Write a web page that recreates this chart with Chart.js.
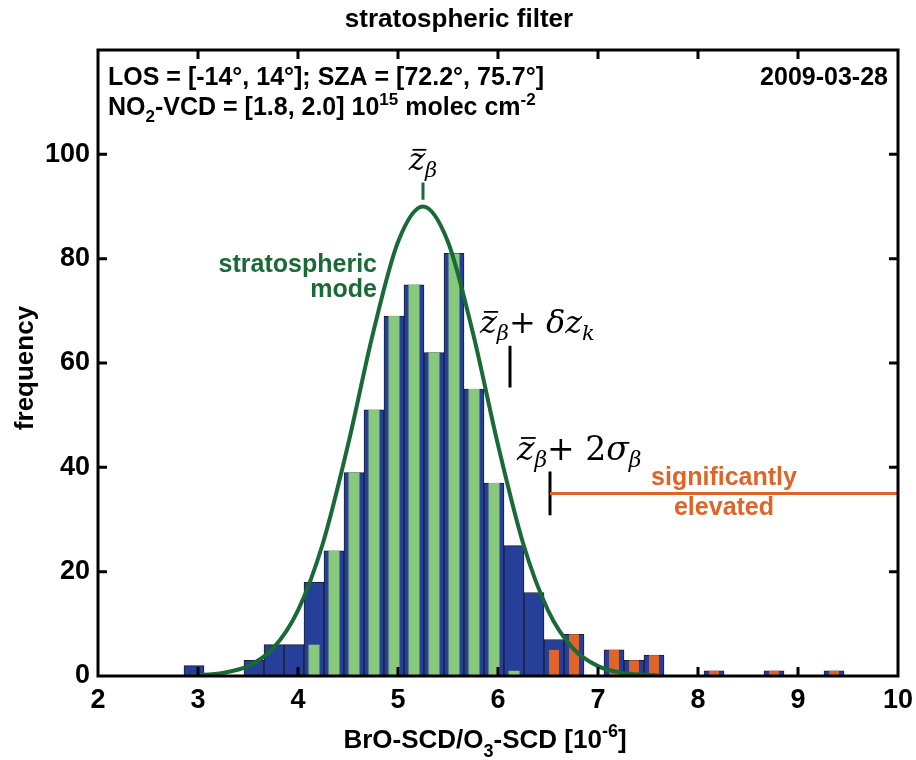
<html><head>
<meta charset="UTF-8">
<title>stratospheric filter</title>
<style>
  body { margin: 0; background: #ffffff; }
  #wrap { width: 916px; height: 760px; position: relative; }
</style>
<script src="https://cdn.jsdelivr.net/npm/chart.js"></script>
</head>
<body>
<div id="wrap"><canvas id="histChart"></canvas></div>
<script>
// bin centres of the BrO-SCD/O3-SCD histogram (bin width 0.2)
const binCenters = [2.96, 3.16, 3.36, 3.56, 3.76, 3.96, 4.16, 4.36, 4.56, 4.76, 4.96,
  5.16, 5.36, 5.56, 5.76, 5.96, 6.16, 6.36, 6.56, 6.76, 6.96, 7.16, 7.36, 7.56,
  7.76, 7.96, 8.16, 8.36, 8.56, 8.76, 8.96, 9.16, 9.36];
// all measurements (blue)
const allCounts = [2, 0, 0, 3, 6, 6, 18, 24, 39, 51, 69, 75, 62, 81, 55, 37, 25, 16,
  7, 8, 0, 5, 3, 4, 0, 0, 1, 0, 0, 1, 0, 0, 1];
// stratospheric mode members (green)
const stratCounts = [0, 0, 0, 0, 0, 0, 6, 24, 39, 51, 69, 75, 62, 81, 55, 37, 1, 0,
  0, 0, 0, 0, 0, 0, 0, 0, 0, 0, 0, 0, 0, 0, 0];
// significantly elevated (orange)
const elevCounts = [0, 0, 0, 0, 0, 0, 0, 0, 0, 0, 0, 0, 0, 0, 0, 0, 0, 0,
  5, 8, 0, 5, 3, 4, 0, 0, 1, 0, 0, 1, 0, 0, 1];

// fitted stratospheric mode
const curveX = [2.95, 3.25, 3.5, 3.75, 4.0, 4.25, 4.5, 4.75, 5.0, 5.25, 5.5, 5.75,
  6.0, 6.25, 6.5, 6.75, 7.0, 7.25, 7.6];
const curveY = [0.1, 0.6, 1.9, 5.3, 12.6, 25.5, 44.3, 65.7, 83.2, 90, 83.2, 65.7,
  44.3, 25.5, 12.6, 5.3, 1.9, 0.6, 0.1];

// markers
const meanZ = 5.25;
const deltaZ = 6.12;
const twoSigmaZ = 6.52;
const elevatedLevel = 35;

const xTicks = [2, 3, 4, 5, 6, 7, 8, 9, 10];
const yTicks = [0, 20, 40, 60, 80, 100];

const BLUE = '#263f98';
const GREEN = '#88c87a';
const ORANGE = '#df6428';
const CURVE = '#196a37';
const SANS = '"Liberation Sans", Arial, sans-serif';
const SERIF = '"DejaVu Serif", serif';

function pts(xs, ys) {
  return xs.map((x, i) => ({ x: x, y: ys[i] === 0 ? null : ys[i] }));
}

// draw a row of text pieces: [text, font, dy]
function drawRuns(ctx, x, y, runs, align) {
  let total = 0;
  runs.forEach(r => { ctx.font = r[1]; total += ctx.measureText(r[0]).width; });
  let cx = align === 'center' ? x - total / 2 : align === 'right' ? x - total : x;
  ctx.textAlign = 'left';
  ctx.textBaseline = 'alphabetic';
  const out = [];
  runs.forEach(r => {
    ctx.font = r[1];
    ctx.fillText(r[0], cx, y + (r[2] || 0));
    const w = ctx.measureText(r[0]).width;
    out.push([cx, w]);
    cx += w;
  });
  return out;
}

function zbar(ctx, pos, y, size) {
  // macron over the z
  ctx.fillRect(pos[0] + size * 0.12, y - size * 0.68, pos[1] * 0.85, 1.8);
}

const overlay = {
  id: 'overlay',
  afterDatasetsDraw(chart) {
    const ctx = chart.ctx;
    const xs = chart.scales.x, ys = chart.scales.y;
    const X = v => xs.getPixelForValue(v), Y = v => ys.getPixelForValue(v);
    ctx.save();

    // marker lines
    ctx.lineCap = 'butt';
    ctx.strokeStyle = CURVE; ctx.lineWidth = 3;
    ctx.beginPath(); ctx.moveTo(X(meanZ), Y(91.3)); ctx.lineTo(X(meanZ), Y(94.6)); ctx.stroke();
    ctx.strokeStyle = '#000'; ctx.lineWidth = 3;
    ctx.beginPath(); ctx.moveTo(X(deltaZ), Y(55.3)); ctx.lineTo(X(deltaZ), Y(63.3)); ctx.stroke();
    ctx.beginPath(); ctx.moveTo(X(twoSigmaZ), Y(30.8)); ctx.lineTo(X(twoSigmaZ), Y(39.2)); ctx.stroke();
    ctx.strokeStyle = ORANGE; ctx.lineWidth = 3;
    ctx.beginPath(); ctx.moveTo(X(twoSigmaZ), Y(elevatedLevel)); ctx.lineTo(xs.right, Y(elevatedLevel)); ctx.stroke();

    // math labels
    const it = s => 'italic ' + s + 'px ' + SERIF;
    const up = s => s + 'px ' + SERIF;
    ctx.fillStyle = '#000';
    let p = drawRuns(ctx, X(meanZ), Y(97), [['z', it(31)], ['β', it(21), 7]], 'center');
    zbar(ctx, p[0], Y(97), 31);
    p = drawRuns(ctx, X(5.82), Y(65.8), [['z', it(32)], ['β', it(21), 7], ['+ ', up(32)],
      ['δz', it(32)], ['k', it(21), 7]], 'left');
    zbar(ctx, p[0], Y(65.8), 32);
    p = drawRuns(ctx, X(6.19), Y(41.5), [['z', it(33)], ['β', it(22), 7], ['+ 2', up(33)],
      ['σ', it(33)], ['β', it(22), 7]], 'left');
    zbar(ctx, p[0], Y(41.5), 33);

    // coloured labels
    ctx.font = 'bold 25px ' + SANS;
    ctx.fillStyle = CURVE;
    ctx.textAlign = 'right';
    ctx.fillText('stratospheric', X(4.79), Y(77.5));
    ctx.fillText('mode', X(4.79), Y(72.7));
    ctx.fillStyle = ORANGE;
    ctx.textAlign = 'center';
    ctx.fillText('significantly', X(8.26), Y(36.7));
    ctx.fillText('elevated', X(8.26), Y(30.9));
    ctx.restore();
  },
  afterDraw(chart) {
    const ctx = chart.ctx;
    const a = chart.chartArea;
    const xs = chart.scales.x, ys = chart.scales.y;
    ctx.save();
    ctx.fillStyle = '#000';
    ctx.strokeStyle = '#000';

    // inward ticks
    ctx.lineWidth = 3;
    ctx.beginPath();
    xTicks.slice(1, -1).forEach(v => {
      const px = xs.getPixelForValue(v);
      ctx.moveTo(px, a.bottom); ctx.lineTo(px, a.bottom - 9);
      ctx.moveTo(px, a.top); ctx.lineTo(px, a.top + 9);
    });
    yTicks.slice(1).forEach(v => {
      const py = ys.getPixelForValue(v);
      ctx.moveTo(a.left, py); ctx.lineTo(a.left + 9, py);
      ctx.moveTo(a.right, py); ctx.lineTo(a.right - 9, py);
    });
    ctx.stroke();
    // frame
    ctx.lineWidth = 3;
    ctx.strokeRect(a.left, a.top, a.right - a.left, a.bottom - a.top);

    // header texts inside the frame
    const b = 'bold 25px ' + SANS, bs = 'bold 17px ' + SANS;
    drawRuns(ctx, a.left + 10, a.top + 35, [['LOS = [-14°, 14°]; SZA = [72.2°, 75.7°]', b]], 'left');
    drawRuns(ctx, a.right - 10, a.top + 35, [['2009-03-28', b]], 'right');
    drawRuns(ctx, a.left + 10, a.top + 65, [['NO', b], ['2', bs, 7], ['-VCD = [1.8, 2.0] 10', b],
      ['15', bs, -10], [' molec cm', b], ['-2', bs, -10]], 'left');

    // title
    ctx.font = 'bold 26px ' + SANS;
    ctx.textAlign = 'center';
    ctx.textBaseline = 'alphabetic';
    ctx.fillText('stratospheric filter', 459, 27);

    // x axis title
    const t = 'bold 26px ' + SANS, ts = 'bold 18px ' + SANS;
    drawRuns(ctx, 485, 748, [['BrO-SCD/O', t], ['3', ts, 9], ['-SCD [10', t], ['-6', ts, -11], [']', t]], 'center');

    // y axis title
    ctx.translate(33, (a.top + a.bottom) / 2 + 5);
    ctx.rotate(-Math.PI / 2);
    ctx.font = 'bold 26px ' + SANS;
    ctx.textAlign = 'center';
    ctx.fillText('frequency', 0, 0);
    ctx.restore();
  }
};

new Chart(document.getElementById('histChart'), {
  type: 'bar',
  data: {
    datasets: [{
      type: 'line',
      data: pts(curveX, curveY).map(p => ({ x: p.x, y: p.y === null ? 0 : p.y })),
      borderColor: CURVE,
      borderWidth: 4,
      pointRadius: 0,
      cubicInterpolationMode: 'monotone',
      fill: false,
      order: 0
    }, {
      data: pts(binCenters, stratCounts),
      backgroundColor: GREEN,
      borderWidth: 0,
      barPercentage: 0.55,
      categoryPercentage: 1,
      grouped: false,
      order: 1
    }, {
      data: pts(binCenters, elevCounts),
      backgroundColor: ORANGE,
      borderWidth: 0,
      barPercentage: 0.5,
      categoryPercentage: 1,
      grouped: false,
      order: 1
    }, {
      data: pts(binCenters, allCounts),
      backgroundColor: BLUE,
      borderColor: '#1b1b33',
      borderWidth: 1,
      barPercentage: 1,
      categoryPercentage: 1,
      grouped: false,
      order: 2
    }]
  },
  options: {
    responsive: true,
    maintainAspectRatio: false,
    animation: false,
    layout: { padding: { top: 50, right: 18, left: 0, bottom: 0 } },
    plugins: { legend: { display: false }, tooltip: { enabled: false } },
    scales: {
      x: {
        type: 'linear',
        min: 2, max: 10,
        offset: false,
        grid: { display: false, drawTicks: false },
        border: { display: false },
        afterBuildTicks: s => { s.ticks = xTicks.map(v => ({ value: v })); },
        afterFit: s => { s.height = 84; s.paddingLeft = 0; s.paddingRight = 0; },
        ticks: {
          color: '#000',
          padding: 8,
          maxRotation: 0,
          font: { family: SANS, size: 27, weight: 'bold' }
        }
      },
      y: {
        min: 0, max: 120,
        grid: { display: false, drawTicks: false },
        border: { display: false },
        afterBuildTicks: s => { s.ticks = yTicks.map(v => ({ value: v })); },
        afterFit: s => { s.width = 98; s.paddingTop = 0; s.paddingBottom = 0; },
        ticks: {
          color: '#000',
          padding: 8,
          font: { family: SANS, size: 27, weight: 'bold' }
        }
      }
    }
  },
  plugins: [overlay]
});
</script>
</body></html>
